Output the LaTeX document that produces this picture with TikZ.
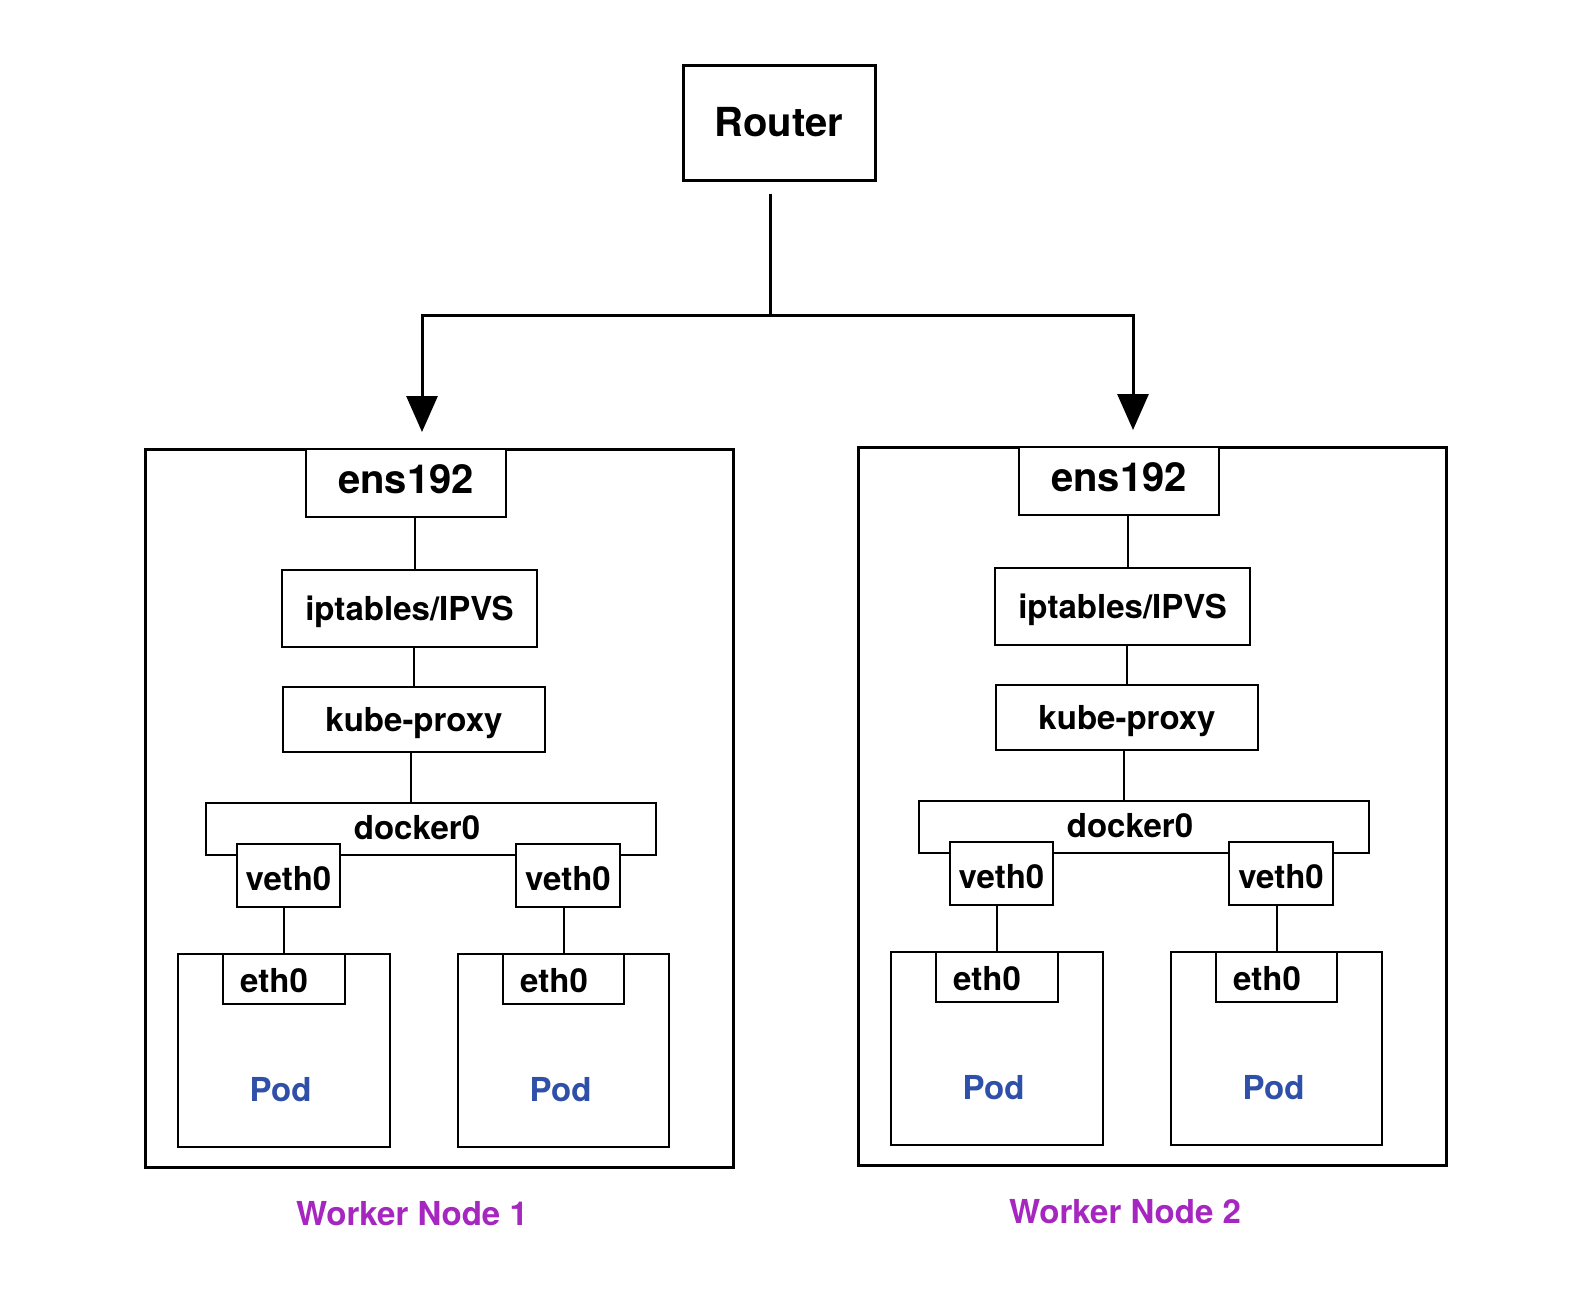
\documentclass[tikz,border=0pt]{standalone}
\usepackage{fontspec}
\setmainfont{TeX Gyre Heros}
\usetikzlibrary{arrows.meta}
\definecolor{podblue}{RGB}{46,80,168}
\definecolor{wnpurple}{RGB}{166,38,192}
\tikzset{
  ifbox/.style={draw, line width=1pt, fill=white, inner sep=0pt},
  bigtxt/.style={font=\fontsize{20}{24}\selectfont\bfseries},
  txt/.style={font=\fontsize{16.5}{20}\selectfont\bfseries},
  plain/.style={inner sep=0pt},
  wire/.style={line width=1pt},
  feed/.style={line width=1.5pt, -{Triangle[width=15.5pt,length=18pt]}},
  outerbox/.style={draw, line width=1.5pt, inner sep=0pt},
}
\newcommand\workernode[4]{%
\begin{scope}[shift={(#2,#3)}]
  \node[outerbox, minimum width=294pt, minimum height=359pt] (#1wn) at (439,808) {};
  \node[ifbox, bigtxt, text height=14pt, text depth=4pt, minimum width=100pt, minimum height=34pt] (#1ens) at (406,483) {ens192};
  \node[ifbox, txt, text depth=0pt, minimum width=127.5pt, minimum height=38.5pt] (#1ipt) at (409.5,608.5) {iptables/IPVS};
  \node[ifbox, txt, text depth=0pt, minimum width=131pt, minimum height=32.5pt] (#1kube) at (414,719.5) {kube-proxy};
  \node[ifbox, minimum width=225pt, minimum height=26pt] (#1dock) at (431,829) {};
  \node[plain, txt] (#1dockt) at (417,828) {docker0};
  \node[ifbox, txt, text height=14.5pt, text depth=0pt, minimum width=51.5pt, minimum height=31.5pt] (#1vl) at (288.5,875.5) {veth0};
  \node[ifbox, txt, text height=14.5pt, text depth=0pt, minimum width=52pt, minimum height=31.5pt] (#1vr) at (568,875.5) {veth0};
  \node[ifbox, minimum width=106pt, minimum height=96.5pt] (#1pl) at (284,1050.5) {};
  \node[ifbox, minimum width=105.5pt, minimum height=96.5pt] (#1pr) at (563.5,1050.5) {};
  \node[ifbox, minimum width=61pt, minimum height=25pt] (#1el) at (284,979) {};
  \node[ifbox, minimum width=60.5pt, minimum height=25pt] (#1er) at (563.5,979) {};
  \node[plain, txt] (#1elt) at (274,981) {eth0};
  \node[plain, txt] (#1ert) at (554,981) {eth0};
  \node[plain, txt, text=podblue] (#1plt) at (280.5,1089.5) {Pod};
  \node[plain, txt, text=podblue] (#1prt) at (560.5,1089.5) {Pod};
  \node[plain, txt, text=wnpurple] (#1lab) at (412,1213.5) {#4};
  \draw[wire] ([xshift=4.5pt]#1ens.south) -- ([xshift=2.75pt]#1ipt.north);
  \draw[wire] ([xshift=2.25pt]#1ipt.south) -- (#1kube.north);
  \draw[wire] ([xshift=-1.5pt]#1kube.south) -- ([xshift=-10pt]#1dock.north);
  \draw[wire] (#1vl.south -| #1el.north) -- (#1el.north);
  \draw[wire] (#1vr.south -| #1er.north) -- (#1er.north);
\end{scope}}
\begin{document}
\begin{tikzpicture}[x=0.5pt, y=-0.5pt]
  \fill[white] (0,0) rectangle (1582,1296);
  \useasboundingbox (0,0) rectangle (1582,1296);
  \node[outerbox, bigtxt, minimum width=96pt, minimum height=57.5pt] (router) at (779,122.5) {Router};
  \workernode{wa}{0}{0}{Worker Node 1}
  \workernode{wb}{713}{-2}{Worker Node 2}
  \coordinate (split) at (770,315);
  \draw[line width=1.5pt] ([xshift=-4.5pt,yshift=-6pt]router.south) -- (split);
  \draw[feed] (split) -| ([xshift=8pt,yshift=8pt]waens.north);
  \draw[feed] (split) -| ([xshift=7pt,yshift=8pt]wbens.north);
\end{tikzpicture}
\end{document}
